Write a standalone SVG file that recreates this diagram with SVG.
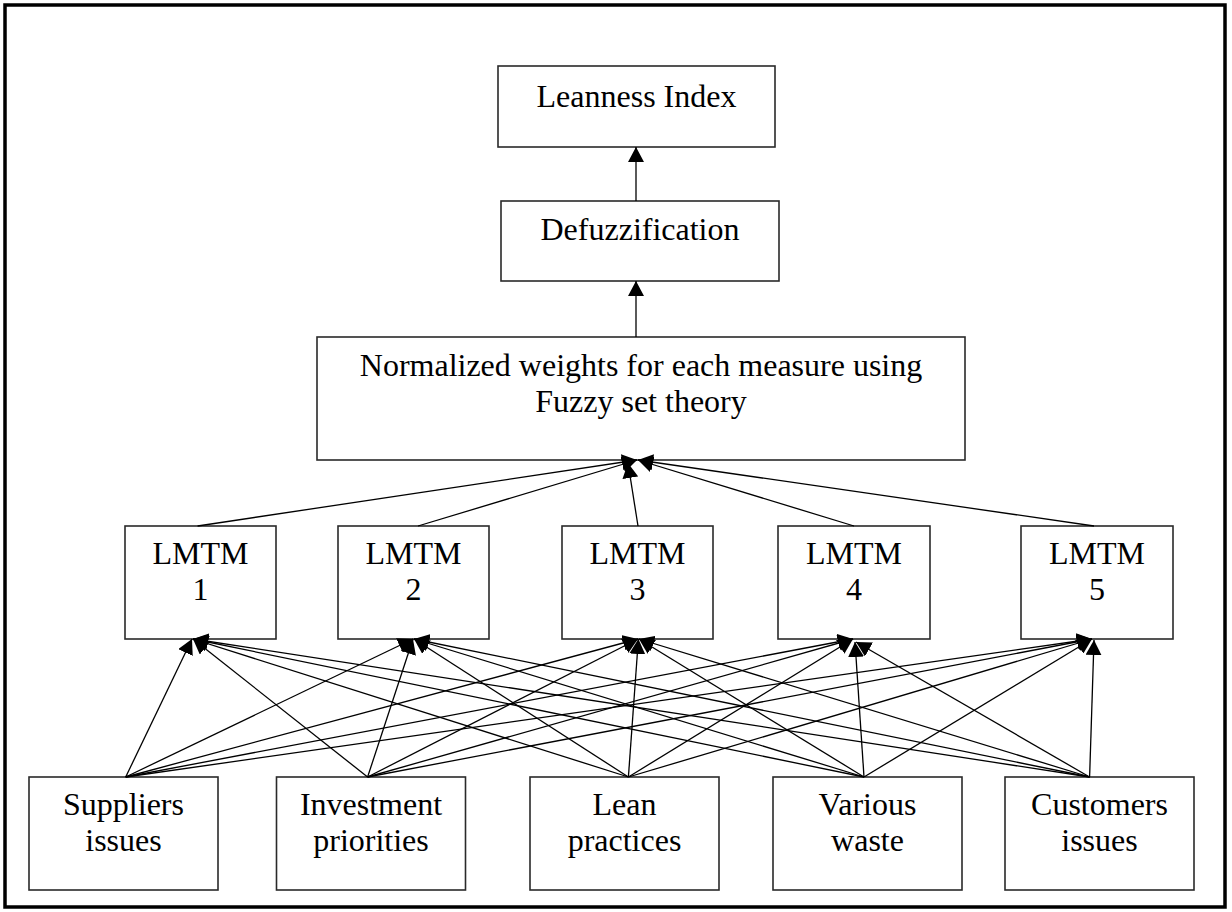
<svg xmlns="http://www.w3.org/2000/svg" width="1232" height="912" viewBox="0 0 1232 912">
  <defs>
    <marker id="arrow" viewBox="0 0 15 16" refX="15" refY="8" markerWidth="15" markerHeight="16" orient="auto" markerUnits="userSpaceOnUse">
      <path d="M0,0 L15,8 L0,16 z" fill="#000"/>
    </marker>
    <style>
      .frame { fill: none; stroke: #000; stroke-width: 3.5; }
      .box { fill: #fff; stroke: #2a2a2a; stroke-width: 1.6; }
      .lbl { font-family: "Liberation Serif", "Times New Roman", serif; font-size: 32px; fill: #000; text-anchor: middle; }
      .edge { fill: none; stroke: #000; stroke-width: 1.3; marker-end: url(#arrow); }
    </style>
  </defs>

  <rect width="1232" height="912" fill="#fff"/>
  <rect class="frame" x="5" y="5" width="1220" height="902"/>

  <!-- top chain -->
  <g id="leanness-index">
    <rect class="box" x="498" y="66" width="277" height="81"/>
    <text class="lbl" x="636.5" y="107">Leanness Index</text>
  </g>
  <g id="defuzzification">
    <rect class="box" x="501" y="201" width="278" height="80"/>
    <text class="lbl" x="640" y="240">Defuzzification</text>
  </g>
  <g id="normalized-weights">
    <rect class="box" x="317" y="337" width="648" height="123"/>
    <text class="lbl" x="641" y="376">Normalized weights for each measure using</text>
    <text class="lbl" x="641" y="412">Fuzzy set theory</text>
  </g>

  <!-- LMTM row -->
  <g id="lmtm-1">
    <rect class="box" x="125" y="526" width="151" height="113"/>
    <text class="lbl" x="200.5" y="564">LMTM</text>
    <text class="lbl" x="200.5" y="600">1</text>
  </g>
  <g id="lmtm-2">
    <rect class="box" x="338" y="526" width="151" height="113"/>
    <text class="lbl" x="413.5" y="564">LMTM</text>
    <text class="lbl" x="413.5" y="600">2</text>
  </g>
  <g id="lmtm-3">
    <rect class="box" x="562" y="526" width="151" height="113"/>
    <text class="lbl" x="637.5" y="564">LMTM</text>
    <text class="lbl" x="637.5" y="600">3</text>
  </g>
  <g id="lmtm-4">
    <rect class="box" x="778" y="526" width="152" height="113"/>
    <text class="lbl" x="854" y="564">LMTM</text>
    <text class="lbl" x="854" y="600">4</text>
  </g>
  <g id="lmtm-5">
    <rect class="box" x="1021" y="526" width="152" height="113"/>
    <text class="lbl" x="1097" y="564">LMTM</text>
    <text class="lbl" x="1097" y="600">5</text>
  </g>

  <!-- input factors -->
  <g id="suppliers-issues">
    <rect class="box" x="29" y="777" width="189" height="113"/>
    <text class="lbl" x="123.5" y="815">Suppliers</text>
    <text class="lbl" x="123.5" y="851">issues</text>
  </g>
  <g id="investment-priorities">
    <rect class="box" x="276.5" y="777" width="189" height="113"/>
    <text class="lbl" x="371" y="815">Investment</text>
    <text class="lbl" x="371" y="851">priorities</text>
  </g>
  <g id="lean-practices">
    <rect class="box" x="530" y="777" width="189" height="113"/>
    <text class="lbl" x="624.5" y="815">Lean</text>
    <text class="lbl" x="624.5" y="851">practices</text>
  </g>
  <g id="various-waste">
    <rect class="box" x="773" y="777" width="189" height="113"/>
    <text class="lbl" x="867.5" y="815">Various</text>
    <text class="lbl" x="867.5" y="851">waste</text>
  </g>
  <g id="customers-issues">
    <rect class="box" x="1005" y="777" width="189" height="113"/>
    <text class="lbl" x="1099.5" y="815">Customers</text>
    <text class="lbl" x="1099.5" y="851">issues</text>
  </g>

  <g id="connectors">
    <!-- upper chain -->
    <line class="edge" x1="636" y1="201" x2="636" y2="147"/>
    <line class="edge" x1="636" y1="337" x2="636" y2="281"/>

    <!-- LMTM outputs into the weighting step -->
    <line class="edge" x1="197.6" y1="526" x2="637" y2="460"/>
    <line class="edge" x1="418" y1="526" x2="637" y2="460"/>
    <line class="edge" x1="638" y1="526" x2="628" y2="463"/>
    <line class="edge" x1="854" y1="526" x2="638" y2="460"/>
    <line class="edge" x1="1094" y1="526" x2="638" y2="460"/>

    <!-- Suppliers issues -->
    <line class="edge" x1="125.7" y1="777" x2="192" y2="639"/>
    <line class="edge" x1="125.7" y1="777" x2="413" y2="639"/>
    <line class="edge" x1="125.7" y1="777" x2="638" y2="639"/>
    <line class="edge" x1="125.7" y1="777" x2="853" y2="639"/>
    <line class="edge" x1="125.7" y1="777" x2="1092" y2="639"/>

    <!-- Investment priorities -->
    <line class="edge" x1="367.6" y1="777" x2="193" y2="639"/>
    <line class="edge" x1="367.6" y1="777" x2="413" y2="639"/>
    <line class="edge" x1="367.6" y1="777" x2="638" y2="639"/>
    <line class="edge" x1="367.6" y1="777" x2="853" y2="639"/>
    <line class="edge" x1="367.6" y1="777" x2="1092" y2="639"/>

    <!-- Lean practices -->
    <line class="edge" x1="628.4" y1="777" x2="193" y2="639"/>
    <line class="edge" x1="628.4" y1="777" x2="414" y2="639"/>
    <line class="edge" x1="628.4" y1="777" x2="638.4" y2="639"/>
    <line class="edge" x1="628.4" y1="777" x2="853" y2="639"/>
    <line class="edge" x1="628.4" y1="777" x2="1092" y2="639"/>

    <!-- Various waste -->
    <line class="edge" x1="864" y1="777" x2="193" y2="639"/>
    <line class="edge" x1="864" y1="777" x2="414" y2="639"/>
    <line class="edge" x1="864" y1="777" x2="639" y2="639"/>
    <line class="edge" x1="864" y1="777" x2="855" y2="642"/>
    <line class="edge" x1="864" y1="777" x2="1092" y2="639"/>

    <!-- Customers issues -->
    <line class="edge" x1="1089.6" y1="777" x2="193" y2="639"/>
    <line class="edge" x1="1089.6" y1="777" x2="414" y2="639"/>
    <line class="edge" x1="1089.6" y1="777" x2="639" y2="639"/>
    <line class="edge" x1="1089.6" y1="777" x2="856" y2="642"/>
    <line class="edge" x1="1089.6" y1="777" x2="1094" y2="640"/>
  </g>
</svg>
